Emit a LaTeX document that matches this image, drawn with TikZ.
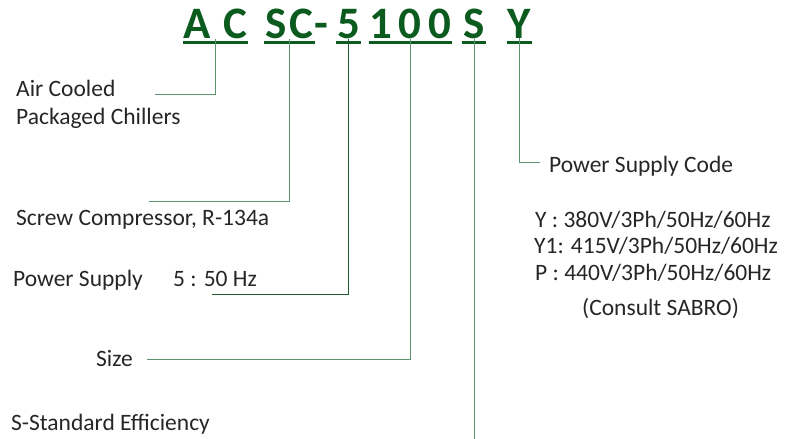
\documentclass[tikz,border=0pt]{standalone}
\usepackage{fontspec}
\setmainfont{Carlito}
\usepackage{tikz}
\usetikzlibrary{positioning}
\definecolor{codegreen}{HTML}{0B5A1E}
\definecolor{leadlight}{HTML}{5C9470}
\definecolor{leaddark}{HTML}{1F5A2C}
\tikzstyle{code} = [font=\fontsize{45}{48}\selectfont\bfseries, text=codegreen, inner sep=0pt, anchor=base]
\tikzstyle{desc} = [font=\fontsize{23.5}{27}\selectfont, text=black!85, inner sep=0pt, anchor=base west]
\tikzstyle{uline} = [codegreen, line width=3pt]
\tikzstyle{lead} = [leadlight, line width=1pt]

\begin{document}
\begin{tikzpicture}[x=1pt, y=-1pt]
    \useasboundingbox (0,0) rectangle (785,439);
    % model code
    \node (ac) [code] at (215.5,38) {A\hspace{12pt}C};
    \node (sc) [code] at (289.5,38) {S\hspace{3pt}C};
    \node (dash) [code] at (321,38) {-};
    \node (five) [code] at (348.5,38) {5};
    \node (size) [code] at (410.5,38) {1\hspace{6pt}0\hspace{7pt}0};
    \node (eff) [code] at (474,38) {S};
    \node (volt) [code] at (519.5,38) {Y};
    \foreach \seg in {ac, sc, five, size, eff, volt}
        \draw [uline] ([yshift=-4pt,xshift=-1pt]\seg.base west) -- ([yshift=-4pt,xshift=1pt]\seg.base east);

    % descriptions
    \node (aircooled) [desc] at (16,96) {Air Cooled};
    \node (packaged) [desc] at (16,124) {Packaged Chillers};
    \node (screw) [desc] at (16,225) {Screw Compressor, R-134a};
    \node (power) [desc] at (13,286) {Power Supply};
    \node (hz) [desc] at (173,286) {5 : 50 Hz};
    \node (sizetext) [desc] at (96,366) {Size};
    \node (standard) [desc] at (11,430) {S-Standard Efficiency};
    \node (pscode) [desc] at (549,172) {Power Supply Code};
    \node (yv) [desc] at (535,227) {Y : 380V/3Ph/50Hz/60Hz};
    \node (y1v) [desc] at (534,253) {Y1: 415V/3Ph/50Hz/60Hz};
    \node (pv) [desc] at (535,280) {P : 440V/3Ph/50Hz/60Hz};
    \node (consult) [desc] at (582,315) {(Consult SABRO)};

    % leader ends
    \coordinate (acend) at (155,94);
    \coordinate (scend) at (149,201);
    \coordinate (fiveend) at (212,294);
    \coordinate (sizeend) at (147,359);
    \coordinate (effend) at (474,439);
    \coordinate (voltend) at (540,162);

    \draw [lead] (ac.south) |- (acend);
    \draw [lead] (sc.south) |- (scend);
    \draw [lead, leaddark] (five.south) |- (fiveend);
    \draw [lead] (size.south) |- (sizeend);
    \draw [lead] (eff.south) -- (effend);
    \draw [lead] (volt.south) |- (voltend);
\end{tikzpicture}
\end{document}
